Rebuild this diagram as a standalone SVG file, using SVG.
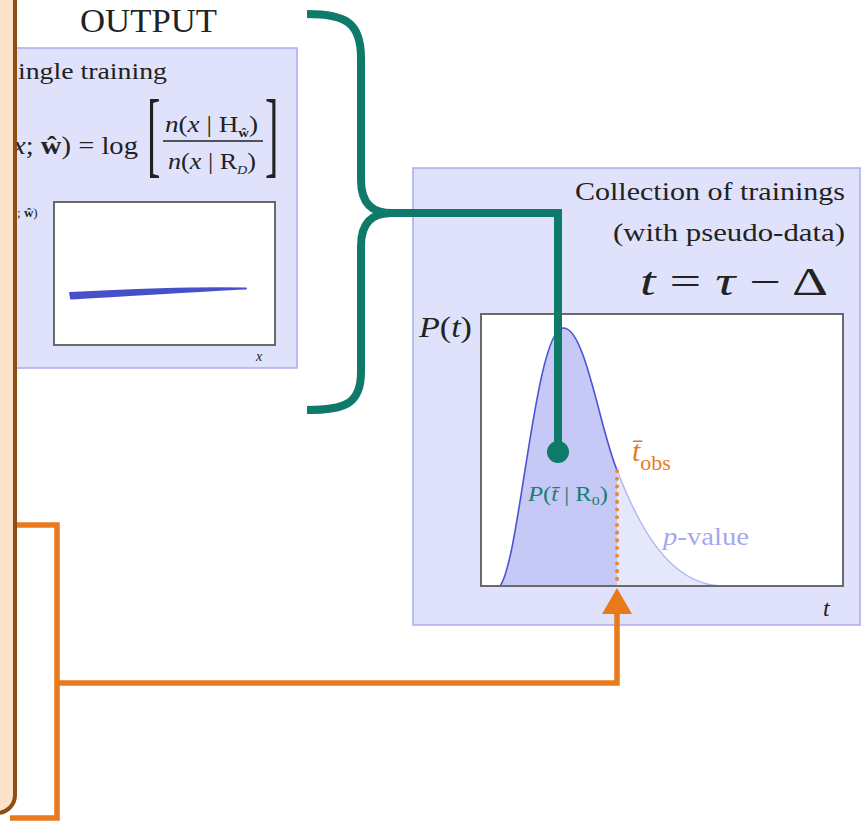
<svg xmlns="http://www.w3.org/2000/svg" width="862" height="822" viewBox="0 0 862 822">
  <style>
    .serif { font-family: "Liberation Serif", "DejaVu Serif", serif; fill: #222; }
    .it { font-style: italic; }
    .box { fill: #e0e2fb; stroke: #a8abef; stroke-width: 1.5; }
    .plot { fill: #ffffff; stroke: #6a6a6a; stroke-width: 2; }
    .teal { fill: none; stroke: #0f7a6a; stroke-width: 8; stroke-linejoin: miter; }
    .orange { fill: none; stroke: #e97a1c; stroke-width: 5.5; }
  </style>

  <rect width="862" height="822" fill="#ffffff"/>

  <!-- output panel: single training -->
  <g id="single-training">
    <rect class="box" x="-10" y="48" width="307" height="320"/>
    <text class="serif" x="18" y="79" font-size="23" textLength="149" lengthAdjust="spacingAndGlyphs">ingle training</text>
    <text class="serif" x="13" y="154" font-size="25" textLength="125" lengthAdjust="spacingAndGlyphs"><tspan class="it">x</tspan>; <tspan font-weight="bold">ŵ</tspan>) = log</text>
    <text class="serif" transform="translate(147,165) scale(0.42,1)" font-size="96">[</text>
    <text class="serif" transform="translate(265,165) scale(0.42,1)" font-size="96">]</text>
    <text class="serif" x="165" y="132" font-size="24" textLength="93" lengthAdjust="spacingAndGlyphs"><tspan class="it">n</tspan>(<tspan class="it">x</tspan> | H<tspan font-size="13" dy="5" font-weight="bold">ŵ</tspan><tspan dy="-5">)</tspan></text>
    <line x1="163" y1="141" x2="263" y2="141" stroke="#222" stroke-width="1.6"/>
    <text class="serif" x="168" y="169" font-size="24" textLength="88" lengthAdjust="spacingAndGlyphs"><tspan class="it">n</tspan>(<tspan class="it">x</tspan> | R<tspan font-size="13" dy="5" class="it">D</tspan><tspan dy="-5">)</tspan></text>
    <text class="serif" x="17" y="217" font-size="13">; <tspan font-weight="bold">ŵ</tspan>)</text>
    <rect class="plot" x="54" y="202" width="221" height="143"/>
    <path d="M70,293 C120,290 200,287 246,288.5 C200,290.5 120,296 71,298.5 Z" fill="#4651c9" stroke="#4651c9" stroke-width="1.8" stroke-linejoin="round"/>
    <text class="serif it" x="256" y="361" font-size="14">x</text>
  </g>

  <text id="output-title" class="serif" x="80" y="32" font-size="33" textLength="137" lengthAdjust="spacingAndGlyphs">OUTPUT</text>

  <!-- collection of trainings -->
  <g id="collection">
    <rect class="box" x="413" y="168" width="447" height="457"/>
    <text class="serif" x="575" y="200" font-size="26" textLength="270" lengthAdjust="spacingAndGlyphs">Collection of trainings</text>
    <text class="serif" x="613" y="241" font-size="26" textLength="232" lengthAdjust="spacingAndGlyphs">(with pseudo-data)</text>
    <text class="serif" x="640" y="295" font-size="40" textLength="188" lengthAdjust="spacingAndGlyphs"><tspan class="it">t</tspan> = <tspan class="it">τ</tspan> − Δ</text>
    <text class="serif" x="419" y="337" font-size="29" textLength="53" lengthAdjust="spacingAndGlyphs"><tspan class="it">P</tspan>(<tspan class="it">t</tspan>)</text>
    <rect class="plot" x="481" y="314" width="362" height="272"/>
    <!-- distribution of t -->
    <path d="M617,470 C640,530 670,583 720,586 L617,586 Z" fill="#e5e7fb"/>
    <path d="M500,586 C520,560 535,330 563,328 C585,326 600,430 617,470 L617,586 Z" fill="#c6c9f5"/>
    <path d="M500,586 C520,560 535,330 563,328 C585,326 600,430 617,470" fill="none" stroke="#4a54d2" stroke-width="1.6"/>
    <path d="M617,470 C640,530 670,583 720,586" fill="none" stroke="#b3b6ef" stroke-width="1.4"/>
    <line x1="481" y1="586" x2="843" y2="586" stroke="#6a6a6a" stroke-width="2"/>
    <line x1="617" y1="471" x2="617" y2="586" stroke="#ee8434" stroke-width="4" stroke-linecap="round" stroke-dasharray="0.1 7.6"/>
    <text class="serif" x="632" y="461" font-size="30" style="fill:#e97a1c"><tspan class="it">t̄</tspan><tspan font-size="22" dy="9">obs</tspan></text>
    <text class="serif" x="528" y="501" font-size="20" textLength="80" lengthAdjust="spacingAndGlyphs" style="fill:#197e73"><tspan class="it">P</tspan>(<tspan class="it">t̄</tspan> | R<tspan font-size="13" dy="4">0</tspan><tspan dy="-4">)</tspan></text>
    <text class="serif" x="663" y="545" font-size="25" textLength="86" lengthAdjust="spacingAndGlyphs" style="fill:#a4a8ef"><tspan class="it">p</tspan>-value</text>
    <text class="serif it" x="823" y="616" font-size="24">t</text>
  </g>

  <!-- connectors -->
  <g id="connectors">
    <path class="teal" d="M307,14 C345,14 361,22 361,58 L361,180 C361,204 373,213 392,213 C373,213 361,222 361,246 L361,372 C361,404 345,410 307,410"/>
    <path class="teal" d="M388,213 L558,213 L558,452"/>
    <circle cx="558" cy="452" r="11" fill="#0f7a6a"/>
    <path class="orange" d="M10,525 L57,525 L57,818 L10,818"/>
    <path class="orange" d="M57,683 L617,683 L617,608"/>
    <polygon points="617,588 632,614 602,614" fill="#e97a1c"/>
  </g>

  <!-- input panel edge -->
  <g id="input-panel">
    <rect x="-30" y="-30" width="45" height="843" rx="18" fill="#fde2c9" stroke="#8f4d14" stroke-width="4"/>
  </g>
</svg>
